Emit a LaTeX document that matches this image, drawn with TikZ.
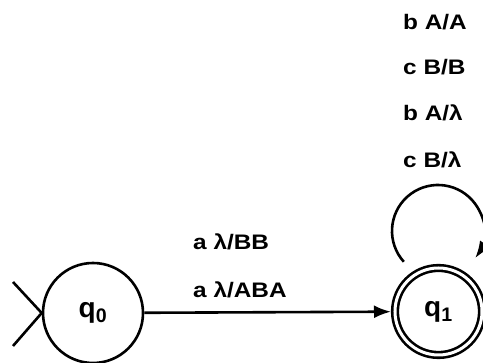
\documentclass[tikz,border=0pt]{standalone}
\usepackage{fontspec}
\setmainfont{Liberation Sans}
\usetikzlibrary{arrows.meta}
\begin{document}
\begin{tikzpicture}[x=1pt,y=1pt,
  state/.style={circle,draw,line width=2.6pt,minimum size=100pt,inner sep=0pt,
    font=\fontsize{28}{28}\selectfont\bfseries},
  accept/.style={state,double,double distance=3pt,minimum size=87pt,outer sep=4pt},
  lbl/.style={anchor=west,inner sep=0pt,font=\fontsize{21}{21}\selectfont\bfseries,xscale=1.16},
  tip/.style={-{Latex[length=17pt,width=13pt]}},
  wire/.style={line width=2.6pt}]
\useasboundingbox (0,0) rectangle (483,363);
% states
\node[state] (q0) at (93,50) {q\textsubscript{0}};
\node[accept] (q1) at (438.5,51.5) {q\textsubscript{1}};
% start marker
\coordinate (s1) at (13,81);
\coordinate (s2) at (13,17);
\draw[wire] (s1) -- (q0.west) -- (s2);
% transition q0 -> q1
\draw[wire,tip] (q0) -- (q1);
\node[lbl] (t1) at (193,121) {a λ/BB};
\node[lbl] (t2) at (193,73) {a λ/ABA};
% self loop on q1
\draw[wire,tip] ([shift={(438,132)}]222:46) arc[start angle=222,end angle=-36,radius=46];
\node[lbl] (l1) at (403,341) {b A/A};
\node[lbl] (l2) at (403,296) {c B/B};
\node[lbl] (l3) at (403,250) {b A/λ};
\node[lbl] (l4) at (403,203) {c B/λ};
\end{tikzpicture}
\end{document}
